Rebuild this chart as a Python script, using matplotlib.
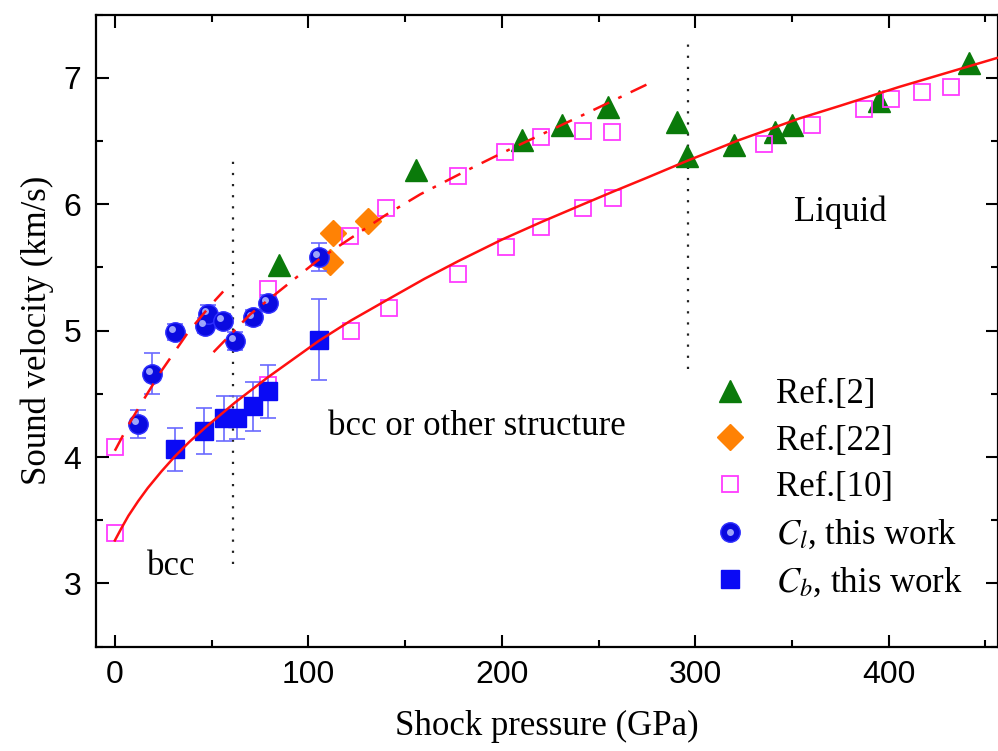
import matplotlib
matplotlib.use('Agg')
import matplotlib.pyplot as plt
from matplotlib.transforms import offset_copy

plt.rcParams['font.family'] = ['Liberation Serif', 'DejaVu Serif']
plt.rcParams['mathtext.fontset'] = 'stix'

# Ref.[2]
ref2_p = [85, 155.5, 210.5, 231, 255, 290.5, 296, 320, 341, 350, 395, 441.5]
ref2_v = [5.52, 6.27, 6.51, 6.63, 6.77, 6.65, 6.38, 6.47, 6.57, 6.63, 6.82, 7.12]

# Ref.[22]
ref22_p = [111, 113, 131]
ref22_v = [5.54, 5.77, 5.87]

# Ref.[10]
ref10_p = [0, 0, 79, 79, 122, 121.5, 140, 141.5, 177.5, 177.5, 201.5, 202,
           220.5, 220.5, 242, 242, 257, 257.5, 335.5, 360.5, 387, 401, 417, 432]
ref10_v = [4.08, 3.40, 5.33, 4.57, 5.00, 5.75, 5.97, 5.18, 6.22, 5.45, 6.41, 5.66,
           6.53, 5.82, 6.58, 5.97, 6.57, 6.05, 6.48, 6.63, 6.755, 6.83, 6.89, 6.93]

# this work
cl_p = [12, 19, 31, 46.5, 48, 56, 62, 71.5, 79, 105.5]
cl_v = [4.26, 4.66, 4.99, 5.04, 5.13, 5.08, 4.92, 5.105, 5.22, 5.585]
cl_err = [0.11, 0.16, 0.06, 0.06, 0.07, 0.05, 0.07, 0.06, 0.06, 0.11]

cb_p = [31, 46, 56.5, 63, 71.5, 79, 105.5]
cb_v = [4.06, 4.205, 4.305, 4.31, 4.40, 4.52, 4.93]
cb_err = [0.17, 0.18, 0.18, 0.17, 0.19, 0.21, 0.32]

# fitted curves
fit_p = [0, 3.5, 7, 12, 17, 24, 31, 38.5, 46.5, 62, 79, 105.5, 122, 141.5, 160,
         177.5, 200, 220.5, 242, 257.5, 275, 296, 323, 354, 375, 405.7, 430, 456.5]
fit_v = [3.34, 3.44, 3.535, 3.65, 3.755, 3.885, 4.005, 4.12, 4.23, 4.43, 4.63, 4.92,
         5.08, 5.25, 5.41, 5.55, 5.72, 5.86, 6.00, 6.10, 6.21, 6.345, 6.51, 6.68,
         6.78, 6.93, 7.04, 7.16]
dash_p = [0, 8, 15.5, 24, 38, 50, 56]
dash_v = [4.05, 4.28, 4.47, 4.68, 4.99, 5.21, 5.31]
dd_p = [51, 70, 106, 140, 158, 183.5, 200.7, 243.8, 278]
dd_v = [4.83, 5.13, 5.57, 5.915, 6.08, 6.28, 6.41, 6.72, 6.97]

fig = plt.figure(figsize=(9.98, 7.51), dpi=100)
ax = fig.add_axes([0.0957, 0.139, 0.9043, 0.8414])

ax.plot([61, 61], [3.15, 6.35], color='#222222', lw=1.6, ls=(0, (1, 4)))
ax.plot([296.5, 296.5], [4.70, 7.33], color='#222222', lw=1.6, ls=(0, (1, 4)))

h2, = ax.plot(ref2_p, ref2_v, '^', color='#0a7a0a', ms=16, ls='none')
h22, = ax.plot(ref22_p, ref22_v, 'D', color='#ff8205', ms=13, ls='none')
h10, = ax.plot(ref10_p, ref10_v, 's', mfc='none', mec='#ff3cff', mew=1.3, ms=12,
               ls='none')

ax.errorbar(cb_p, cb_v, yerr=cb_err, fmt='none', ecolor='#6a6aff', elinewidth=1.2,
            capsize=6, capthick=1.2)
hb, = ax.plot(cb_p, cb_v, 's', color='#0a0af5', ms=13, ls='none')

ax.errorbar(cl_p, cl_v, yerr=cl_err, fmt='none', ecolor='#6a6aff', elinewidth=1.2,
            capsize=6, capthick=1.2)
hl, = ax.plot(cl_p, cl_v, 'o', color='#0a0ae0', mec='#3030ff', ms=14, ls='none')
shine = offset_copy(ax.transData, fig=fig, x=-2, y=2, units='points')
hs, = ax.plot(cl_p, cl_v, 'o', color='#b8c0ff', mec='none', ms=5, ls='none',
              alpha=0.85, transform=shine)

ax.plot(fit_p, fit_v, color='#ff1010', lw=1.8, zorder=5)
ax.plot(dash_p, dash_v, color='#ff1010', lw=1.8, ls=(0, (7, 5)), zorder=5)
ax.plot(dd_p, dd_v, color='#ff1010', lw=1.8, ls=(0, (7, 4, 1.5, 4)), zorder=5)

ax.text(29, 3.13, 'bcc', fontsize=25, ha='center', va='center')
ax.text(110, 4.24, 'bcc or other structure', fontsize=25, ha='left', va='center')
ax.text(375, 5.94, 'Liquid', fontsize=25, ha='center', va='center')

ax.legend([h2, h22, h10, (hl, hs), hb],
          ['Ref.[2]', 'Ref.[22]', 'Ref.[10]', r'$C_l$, this work', r'$C_b$, this work'],
          loc='upper left', bbox_to_anchor=(0.64, 0.475), frameon=False,
          fontsize=25, labelspacing=0.4, handletextpad=0.55, handlelength=1.5)

ax.set_xlim(-10, 456.5)
ax.set_ylim(2.5, 7.5)
ax.set_xticks([0, 100, 200, 300, 400])
ax.set_xticks([50, 150, 250, 350, 450], minor=True)
ax.set_yticks([3, 4, 5, 6, 7])
ax.set_yticks([2.5, 3.5, 4.5, 5.5, 6.5, 7.5], minor=True)
ax.tick_params(which='both', direction='in', top=True, right=True, width=1.5)
ax.tick_params(which='major', length=9, labelsize=23, pad=10)
ax.tick_params(which='minor', length=5)
for lab in ax.get_xticklabels() + ax.get_yticklabels():
    lab.set_family(['Liberation Sans Narrow', 'Liberation Sans'])
for s in ax.spines.values():
    s.set_linewidth(1.6)

ax.set_xlabel('Shock pressure (GPa)', fontsize=25, labelpad=14)
ax.set_ylabel('Sound velocity (km/s)', fontsize=25, labelpad=7)

fig.savefig('out.png', dpi=100)
